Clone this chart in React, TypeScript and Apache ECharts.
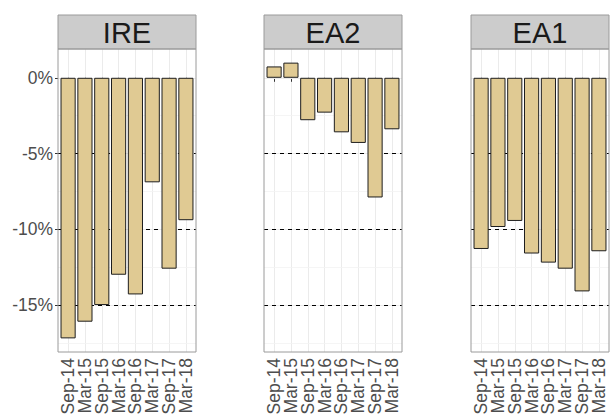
import React, { useEffect, useRef } from "react";
import * as echarts from "echarts";

const categories = ["Sep-14", "Mar-15", "Sep-15", "Mar-16", "Sep-16", "Mar-17", "Sep-17", "Mar-18"];
const panelNames = ["IRE", "EA2", "EA1"];
const ireValues = [-17.2, -16.1, -15.0, -13.0, -14.3, -6.9, -12.6, -9.4];
const ea2Values = [0.75, 1.0, -2.8, -2.3, -3.6, -4.3, -7.9, -3.4];
const ea1Values = [-11.3, -9.85, -9.45, -11.6, -12.2, -12.6, -14.1, -11.45];
const yTicks = [0, -5, -10, -15];
const minorTicks = [-2.5, -7.5, -12.5, -17.5];
const dashedLevels = [-5, -10, -15];
const yMin = -18.1;
const yMax = 1.9;

const FONT = "Liberation Sans, Arial, sans-serif";

export default function App() {
  const ref = useRef<HTMLDivElement>(null);
  useEffect(() => {
    if (!ref.current) return;
    const chart = echarts.init(ref.current, null, { renderer: "svg" });
    const seriesValues = [ireValues, ea2Values, ea1Values];
    const panelLefts = [58, 264, 471];
    const panelWidth = 138;
    const top = 49;
    const height = 303;
    const unit = panelWidth / 8.2;

    const grid: any[] = [];
    const xAxis: any[] = [];
    const yAxis: any[] = [];
    const series: any[] = [];
    const graphic: any[] = [];

    panelNames.forEach((name, p) => {
      const L = panelLefts[p];
      grid.push({ left: L, top, width: panelWidth, height, outerBoundsMode: "none", containLabel: false });
      grid.push({
        left: L + 0.6 * unit, top, width: 7 * unit, height, outerBoundsMode: "none", containLabel: false,
      });
      const go = p * 2;
      const gi = p * 2 + 1;
      xAxis.push({
        gridIndex: go, type: "value", min: 0, max: 1, show: false,
      });
      yAxis.push({
        gridIndex: go, type: "value", min: yMin, max: yMax,
        splitLine: { show: false },
        axisLine: { show: false },
        axisTick: p === 0
          ? { show: true, length: 3, lineStyle: { color: "#333333" }, customValues: yTicks }
          : { show: false },
        axisLabel: p === 0
          ? {
              show: true, customValues: yTicks, formatter: (v: number) => `${v}%`,
              fontSize: 17.5, color: "#4D4D4D", fontFamily: FONT, margin: 5,
            }
          : { show: false },
      });
      xAxis.push({
        gridIndex: gi, type: "category", data: categories, boundaryGap: false,
        axisLine: { show: false },
        axisTick: { show: true, length: 4, lineStyle: { color: "#333333" }, alignWithLabel: true },
        axisLabel: {
          rotate: 90, fontSize: 17.5, color: "#4D4D4D", fontFamily: FONT, margin: 6, interval: 0,
        },
        splitLine: { show: true, lineStyle: { color: "#EBEBEB", width: 1 } },
      });
      yAxis.push({
        gridIndex: gi, type: "value", min: yMin, max: yMax, show: false,
        splitLine: { show: false },
      });
      const markData: any[] = [];
      minorTicks.forEach((v) =>
        markData.push({ yAxis: v, lineStyle: { color: "#F3F3F3", width: 0.8, type: "solid" } })
      );
      yTicks.forEach((v) =>
        markData.push({ yAxis: v, lineStyle: { color: "#EBEBEB", width: 1, type: "solid" } })
      );
      dashedLevels.forEach((v) =>
        markData.push({ yAxis: v, lineStyle: { color: "#000000", width: 1, type: [4, 4] } })
      );
      series.push({
        type: "line", xAxisIndex: go, yAxisIndex: go, data: [[0.5, 0]], symbol: "none",
        lineStyle: { opacity: 0 }, silent: true, z: 1,
        markLine: {
          symbol: "none", silent: true, label: { show: false }, data: markData,
          animation: false, z: 1,
        },
      });
      series.push({
        type: "bar", xAxisIndex: gi, yAxisIndex: gi, data: seriesValues[p],
        barWidth: 0.9 * unit, clip: false, z: 6,
        itemStyle: { color: "#E0CA93", borderColor: "#1E1E1E", borderWidth: 1 },
      });
      graphic.push({
        type: "rect", z: 10,
        shape: { x: L, y: 15, width: panelWidth, height: top - 15 },
        style: { fill: "#CCCCCC", stroke: "#9A9A9A", lineWidth: 1 },
      });
      graphic.push({
        type: "text", z: 11, x: L + panelWidth / 2, y: (15 + top) / 2 + 1,
        style: {
          text: name, fontSize: 29, fontFamily: FONT, fill: "#1A1A1A",
          textAlign: "center", textVerticalAlign: "middle",
        },
      });
      graphic.push({
        type: "rect", z: 10,
        shape: { x: L, y: top, width: panelWidth, height },
        style: { fill: "none", stroke: "#9A9A9A", lineWidth: 1 },
      });
    });

    chart.setOption({
      animation: false,
      grid, xAxis, yAxis, series, graphic,
    });
    return () => chart.dispose();
  }, []);
  return (
    <div
      ref={ref}
      style={{ position: "fixed", left: 0, top: 0, width: 610, height: 416, background: "#ffffff" }}
    />
  );
}
